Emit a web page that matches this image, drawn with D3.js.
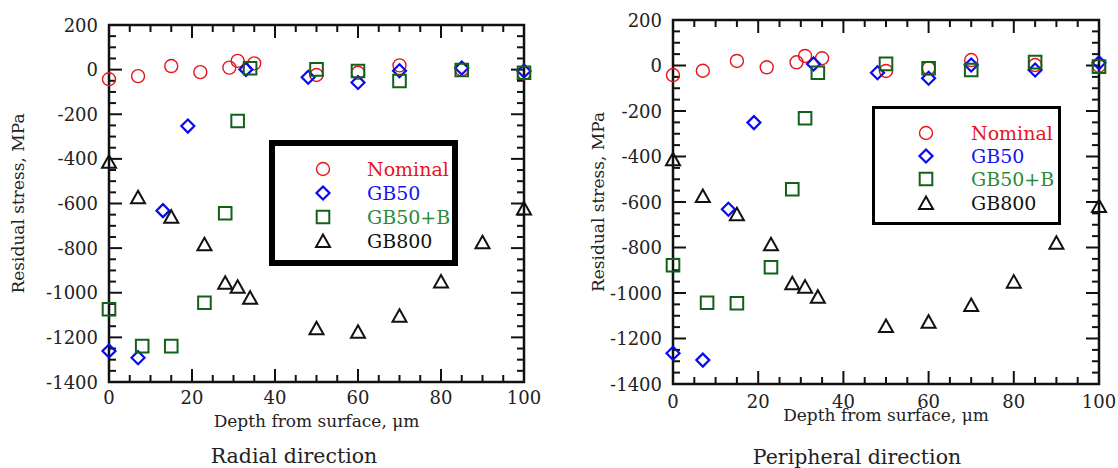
<!DOCTYPE html>
<html>
<head>
<meta charset="utf-8">
<script src="https://cdn.jsdelivr.net/npm/d3@7"></script>
<style>
  body { margin: 0; background: #fff; }
  svg { display: block; font-family: "DejaVu Serif", serif; }
</style>
</head>
<body>
<svg id="chart" width="1118" height="468"></svg>
<script>
// depth (um) and residual stress (MPa)
const radNominalX = [0, 7, 15, 22, 29, 31, 35, 50, 60, 70, 85, 100];
const radNominalY = [-43, -29, 16, -11, 9, 39, 28, -24, -14, 19, 1, -16];
const radGb50X = [0, 7, 13, 19, 33, 48, 60, 70, 85, 100];
const radGb50Y = [-1261, -1291, -632, -253, 1, -34, -58, -5, 7, -6];
const radGb50bX = [0, 8, 15, 23, 28, 31, 34, 50, 60, 70, 85, 100];
const radGb50bY = [-1074, -1239, -1239, -1045, -644, -230, 6, 1, -6, -51, -2, -14];
const radGb800X = [0, 7, 15, 23, 28, 31, 34, 50, 60, 70, 80, 90, 100];
const radGb800Y = [-413, -572, -659, -783, -955, -973, -1022, -1159, -1175, -1103, -950, -774, -622];

const perNominalX = [0, 7, 15, 22, 29, 31, 35, 50, 60, 70, 85, 100];
const perNominalY = [-42, -23, 20, -8, 14, 42, 32, -24, -12, 24, 2, -2];
const perGb50X = [0, 7, 13, 19, 33, 48, 60, 70, 85, 100];
const perGb50Y = [-1265, -1295, -632, -251, 7, -32, -56, 2, -20, 12];
const perGb50bX = [0, 8, 15, 23, 28, 31, 34, 50, 60, 70, 85, 100];
const perGb50bY = [-878, -1043, -1045, -887, -544, -232, -32, 7, -12, -20, 15, -5];
const perGb800X = [0, 7, 15, 23, 28, 31, 34, 50, 60, 70, 80, 90, 100];
const perGb800Y = [-412, -574, -654, -786, -957, -972, -1016, -1145, -1126, -1053, -950, -779, -618];

const seriesNames = ["Nominal", "GB50", "GB50+B", "GB800"];
const xTicks = [0, 20, 40, 60, 80, 100];
const yTicks = [200, 0, -200, -400, -600, -800, -1000, -1200, -1400];

const markColor = ["#e8141c", "#0a0af0", "#11611a", "#111111"];
const textColor = ["#e8141c", "#1414f0", "#2a8a3a", "#111111"];
const shapes = ["circle", "diamond", "square", "triangle"];

const svg = d3.select("#chart");

function shapePath(kind) {
  if (kind === "diamond") return "M0,-6.5L6.5,0L0,6.5L-6.5,0Z";
  if (kind === "square") return "M-6.3,-6.3H6.3V6.3H-6.3Z";
  if (kind === "triangle") return "M0,-6.5L7,6L-7,6Z";
  return null;
}

function drawMark(g, kind, i, x, y) {
  let m;
  if (kind === "circle") {
    m = g.append("circle").attr("cx", x).attr("cy", y).attr("r", 6.5)
      .attr("stroke-width", 1.4);
  } else {
    m = g.append("path").attr("d", shapePath(kind))
      .attr("transform", "translate(" + x + "," + y + ")")
      .attr("stroke-width", kind === "diamond" ? 2.2 : 2);
  }
  m.attr("fill", "none").attr("stroke", markColor[i]);
}

function panel(opt) {
  const gx = d3.scaleLinear().domain([0, 100]).range([opt.left, opt.right]);
  const gy = d3.scaleLinear().domain([-1400, 200]).range([opt.bottom, opt.top]);
  const g = svg.append("g");

  // minor + major ticks on all four sides, pointing inward
  const xMinor = d3.range(0, 101, 5);
  const yMinor = d3.range(-1400, 201, 50);
  xMinor.forEach(v => {
    const len = v % 20 === 0 ? 13 : 7;
    g.append("line").attr("x1", gx(v)).attr("x2", gx(v))
      .attr("y1", opt.bottom).attr("y2", opt.bottom - len);
    g.append("line").attr("x1", gx(v)).attr("x2", gx(v))
      .attr("y1", opt.top).attr("y2", opt.top + len);
  });
  yMinor.forEach(v => {
    const len = v % 200 === 0 ? 13 : 7;
    g.append("line").attr("y1", gy(v)).attr("y2", gy(v))
      .attr("x1", opt.left).attr("x2", opt.left + len);
    g.append("line").attr("y1", gy(v)).attr("y2", gy(v))
      .attr("x1", opt.right).attr("x2", opt.right - len);
  });
  g.selectAll("line").attr("stroke", "#111").attr("stroke-width", 2);

  g.append("rect").attr("x", opt.left).attr("y", opt.top)
    .attr("width", opt.right - opt.left).attr("height", opt.bottom - opt.top)
    .attr("fill", "none").attr("stroke", "#111").attr("stroke-width", 2.5);

  g.selectAll(".xl").data(xTicks).enter().append("text")
    .attr("x", d => gx(d)).attr("y", opt.bottom + opt.xLabDy)
    .attr("text-anchor", "middle").attr("font-size", 18).attr("fill", "#222")
    .text(d => d);
  g.selectAll(".yl").data(yTicks).enter().append("text")
    .attr("x", opt.left - 11).attr("y", d => gy(d) + 6.5)
    .attr("text-anchor", "end").attr("font-size", 18).attr("fill", "#222")
    .text(d => d);

  g.append("text").attr("x", (opt.left + opt.right) / 2).attr("y", opt.xTitleY)
    .attr("text-anchor", "middle").attr("font-size", 17).attr("fill", "#222")
    .text("Depth from surface, \u03bcm");
  g.append("text")
    .attr("transform", "translate(" + opt.yTitleX + "," + (opt.top + opt.bottom) / 2 + ") rotate(-90)")
    .attr("text-anchor", "middle").attr("font-size", 17).attr("fill", "#222")
    .text("Residual stress, MPa");
  g.append("text").attr("x", opt.titleX).attr("y", opt.titleY)
    .attr("text-anchor", "middle").attr("font-size", 20.5).attr("fill", "#222")
    .text(opt.title);

  // points
  opt.series.forEach((s, i) => {
    s[0].forEach((xv, k) => drawMark(g, shapes[i], i, gx(xv), gy(s[1][k])));
  });

  // legend
  const L = opt.legend;
  g.append("rect").attr("x", L.x + L.bw / 2).attr("y", L.y + L.bw / 2)
    .attr("width", L.w - L.bw).attr("height", L.h - L.bw)
    .attr("fill", "#fff").attr("stroke", "#000").attr("stroke-width", L.bw);
  seriesNames.forEach((name, i) => {
    const yy = L.rowY[i];
    drawMark(g, shapes[i], i, L.markX, yy);
    g.append("text").attr("x", L.textX).attr("y", yy + 6.5)
      .attr("font-size", 19).attr("fill", textColor[i]).text(name);
  });
}

panel({
  left: 109, right: 524, top: 25, bottom: 382,
  xLabDy: 22, xTitleY: 427, yTitleX: 24, titleX: 294, titleY: 463,
  title: "Radial direction",
  series: [[radNominalX, radNominalY], [radGb50X, radGb50Y], [radGb50bX, radGb50bY], [radGb800X, radGb800Y]],
  legend: { x: 269, y: 140, w: 189, h: 126, bw: 6, markX: 323, textX: 367, rowY: [169, 193, 217, 241] }
});

panel({
  left: 673, right: 1099, top: 20, bottom: 384,
  xLabDy: 24, xTitleY: 421, yTitleX: 604, titleX: 857, titleY: 464,
  title: "Peripheral direction",
  series: [[perNominalX, perNominalY], [perGb50X, perGb50Y], [perGb50bX, perGb50bY], [perGb800X, perGb800Y]],
  legend: { x: 872, y: 106, w: 189, h: 119, bw: 3, markX: 926, textX: 971, rowY: [133, 156, 179, 203] }
});
</script>
</body>
</html>
